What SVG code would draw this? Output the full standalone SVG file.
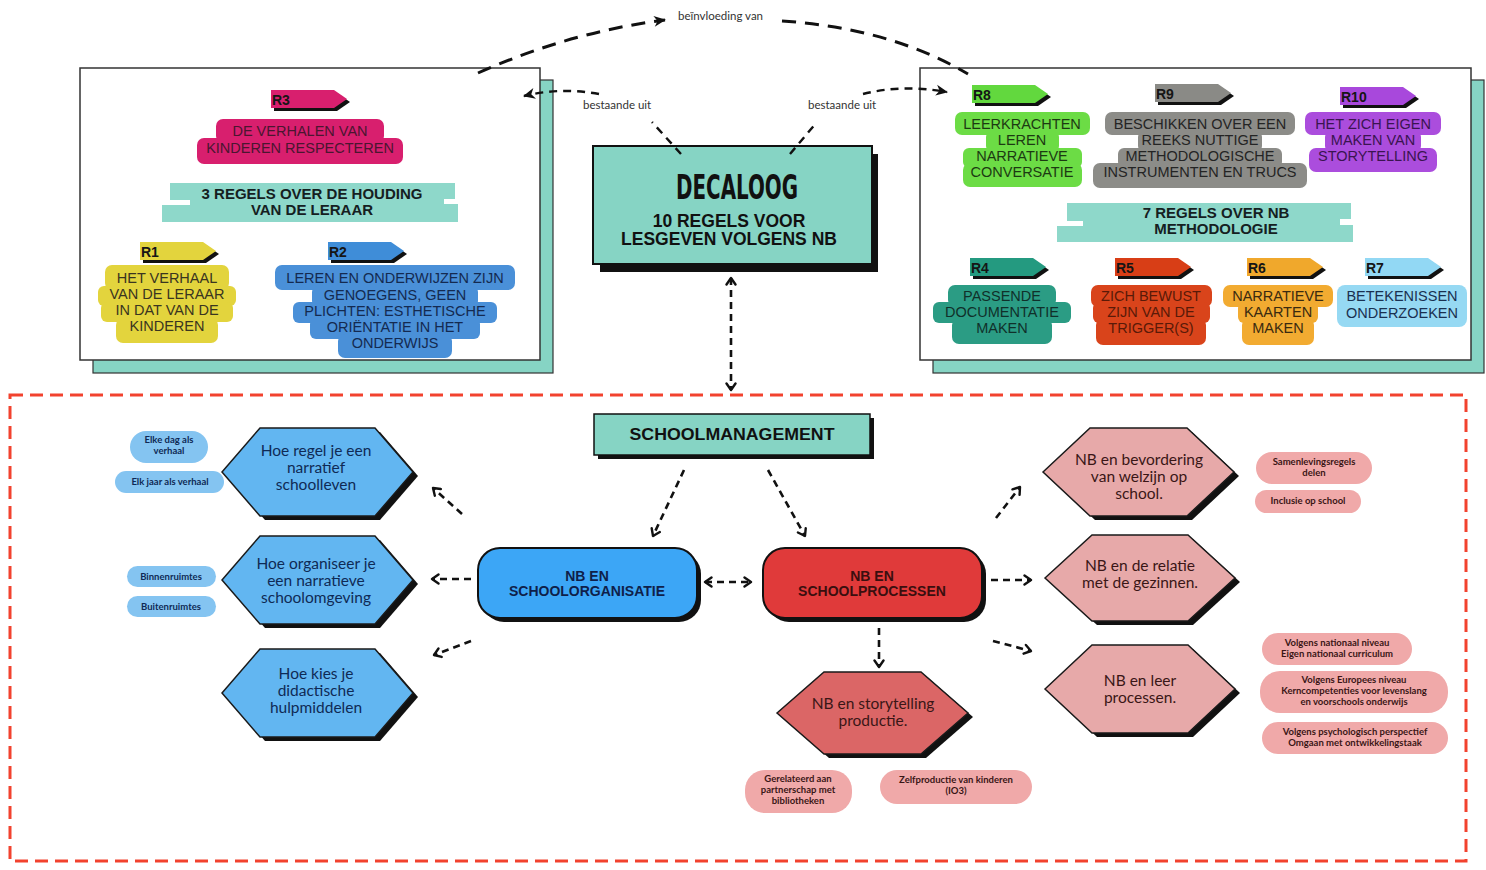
<svg xmlns="http://www.w3.org/2000/svg" width="1486" height="870" viewBox="0 0 1486 870">
<defs>
<style>
.box{font-family:"Liberation Sans",Arial,sans-serif;font-size:14.5px;text-anchor:middle}
.ban{font-family:"Liberation Sans",Arial,sans-serif;font-size:15px;font-weight:700;text-anchor:middle;fill:#15201f}
.tag{font-family:"Liberation Sans",Arial,sans-serif;font-size:14px;font-weight:700;fill:#151515}
.hex{font-family:Lato,"Noto Sans",sans-serif;font-size:15.5px;text-anchor:middle}
.pill{font-family:Lato,"Noto Sans",sans-serif;font-size:9.5px;font-weight:700;text-anchor:middle}
.lbl{font-family:Lato,"Noto Sans",sans-serif;font-size:11.5px;fill:#333}
.node{font-family:"Liberation Sans",Arial,sans-serif;font-size:14px;font-weight:700;text-anchor:middle}
.dash{fill:none;stroke:#111;stroke-width:2.6;stroke-dasharray:7 5}
.dashTop{fill:none;stroke:#111;stroke-width:3;stroke-dasharray:14 9}
.dashMid{fill:none;stroke:#111;stroke-width:2.4;stroke-dasharray:8 6}
.shadow{fill:#111}
.hexB{fill:#62b6f1;stroke:#1a1a1a;stroke-width:1.5}
.hexP{fill:#e7a9a9;stroke:#1a1a1a;stroke-width:1.5}
.pillB{fill:#84c4f1}
.pillP{fill:#f0a9a9}
.bt{fill:#0f2a55}
.pt{fill:#3a1616}
</style>
<polygon id="tagShape" points="0,0 63,0 76,9 63,18 0,18"/>
<marker id="chev" viewBox="0 0 12 12" refX="9.5" refY="6" markerWidth="12" markerHeight="12" markerUnits="userSpaceOnUse" orient="auto-start-reverse">
<path d="M3,1.5 L9.5,6 L3,10.5" fill="none" stroke="#111" stroke-width="2.4" stroke-linecap="round" stroke-linejoin="round"/>
</marker>
<marker id="head" viewBox="0 0 14 14" refX="12" refY="7" markerWidth="14" markerHeight="14" markerUnits="userSpaceOnUse" orient="auto">
<path d="M1,1.5 L13,7 L1,12.5 L4.5,7 Z" fill="#111"/>
</marker>
</defs>
<rect width="1486" height="870" fill="#fff"/>

<!-- red dashed frame -->
<rect x="10" y="395" width="1456" height="466" fill="none" stroke="#f2422e" stroke-width="3" stroke-dasharray="13 7"/>

<!-- Left panel -->
<g id="panel-left">
<rect x="93" y="80" width="460" height="293" fill="#86d4c4" stroke="#333" stroke-width="1.2"/>
<rect x="80" y="68" width="460" height="292" fill="#fff" stroke="#333" stroke-width="1.5"/>
</g>

<!-- Right panel -->
<g id="panel-right">
<rect x="933" y="80" width="551" height="293" fill="#86d4c4" stroke="#333" stroke-width="1.2"/>
<rect x="920" y="68" width="551" height="292" fill="#fff" stroke="#333" stroke-width="1.5"/>
</g>

<!-- R3 -->
<g id="r3">
<g transform="translate(271,90)"><use href="#tagShape" x="3" y="3" class="shadow"/><use href="#tagShape" fill="#d81f6e"/><text class="tag" x="1" y="15">R3</text></g>
<g fill="#d81f6e"><rect x="216" y="119" width="168" height="24" rx="7"/><rect x="197" y="138" width="206" height="26" rx="7"/></g>
<text class="box" fill="#4a1630"><tspan x="300" y="136">DE VERHALEN VAN</tspan><tspan x="300" y="153">KINDEREN RESPECTEREN</tspan></text>
</g>

<!-- banner left -->
<g id="banner-houding">
<path d="M170,183 L455,183 L455,199 L444,199 L444,204 L458,204 L458,222 L162,222 L162,205 L190,205 L190,200 L170,200 Z" fill="#8ed8ca"/>
<text class="ban"><tspan x="312" y="199">3 REGELS OVER DE HOUDING</tspan><tspan x="312" y="215">VAN DE LERAAR</tspan></text>
</g>

<!-- R1 -->
<g id="r1">
<g transform="translate(140,242)"><use href="#tagShape" x="3" y="3" class="shadow"/><use href="#tagShape" fill="#e3d43d"/><text class="tag" x="1" y="15">R1</text></g>
<g fill="#e3d43d"><rect x="105" y="265" width="124" height="25" rx="7"/><rect x="98" y="286" width="138" height="20" rx="6"/><rect x="101" y="302" width="132" height="20" rx="6"/><rect x="116" y="318" width="102" height="25" rx="7"/></g>
<text class="box" fill="#3a3520"><tspan x="167" y="283">HET VERHAAL</tspan><tspan x="167" y="299">VAN DE LERAAR</tspan><tspan x="167" y="315">IN DAT VAN DE</tspan><tspan x="167" y="331">KINDEREN</tspan></text>
</g>

<!-- R2 -->
<g id="r2">
<g transform="translate(328,242)"><use href="#tagShape" x="3" y="3" class="shadow"/><use href="#tagShape" fill="#3f8dd8"/><text class="tag" x="1" y="15">R2</text></g>
<g fill="#4a90d8"><rect x="275" y="265" width="240" height="25" rx="7"/><rect x="312" y="286" width="166" height="21" rx="6"/><rect x="293" y="302" width="204" height="21" rx="6"/><rect x="310" y="318" width="170" height="21" rx="6"/><rect x="338" y="334" width="114" height="24" rx="7"/></g>
<text class="box" fill="#142a50"><tspan x="395" y="283">LEREN EN ONDERWIJZEN ZIJN</tspan><tspan x="395" y="300">GENOEGENS, GEEN</tspan><tspan x="395" y="316">PLICHTEN: ESTHETISCHE</tspan><tspan x="395" y="332">ORIËNTATIE IN HET</tspan><tspan x="395" y="348">ONDERWIJS</tspan></text>
</g>

<!-- R8 -->
<g id="r8">
<g transform="translate(972,85)"><use href="#tagShape" x="3" y="3" class="shadow"/><use href="#tagShape" fill="#62d83e"/><text class="tag" x="1" y="15">R8</text></g>
<g fill="#6cdc45"><rect x="955" y="112" width="135" height="23" rx="7"/><rect x="986" y="132" width="73" height="19" rx="5"/><rect x="963" y="148" width="119" height="20" rx="6"/><rect x="963" y="163" width="119" height="24" rx="7"/></g>
<text class="box" fill="#1c3a12"><tspan x="1022" y="129">LEERKRACHTEN</tspan><tspan x="1022" y="145">LEREN</tspan><tspan x="1022" y="161">NARRATIEVE</tspan><tspan x="1022" y="177">CONVERSATIE</tspan></text>
</g>

<!-- R9 -->
<g id="r9">
<g transform="translate(1155,84)"><use href="#tagShape" x="3" y="3" class="shadow"/><use href="#tagShape" fill="#8a8a86"/><text class="tag" x="1" y="15">R9</text></g>
<g fill="#8c8c88"><rect x="1105" y="112" width="190" height="23" rx="7"/><rect x="1138" y="132" width="124" height="19" rx="5"/><rect x="1118" y="148" width="164" height="20" rx="6"/><rect x="1093" y="163" width="214" height="25" rx="7"/></g>
<text class="box" fill="#242424"><tspan x="1200" y="129">BESCHIKKEN OVER EEN</tspan><tspan x="1200" y="145">REEKS NUTTIGE</tspan><tspan x="1200" y="161">METHODOLOGISCHE</tspan><tspan x="1200" y="177">INSTRUMENTEN EN TRUCS</tspan></text>
</g>

<!-- R10 -->
<g id="r10">
<g transform="translate(1340,87)"><use href="#tagShape" x="3" y="3" class="shadow"/><use href="#tagShape" fill="#a848dc"/><text class="tag" x="1" y="15">R10</text></g>
<g fill="#ab4ddd"><rect x="1305" y="112" width="136" height="23" rx="7"/><rect x="1325" y="132" width="96" height="19" rx="5"/><rect x="1309" y="148" width="128" height="24" rx="7"/></g>
<text class="box" fill="#3a1450"><tspan x="1373" y="129">HET ZICH EIGEN</tspan><tspan x="1373" y="145">MAKEN VAN</tspan><tspan x="1373" y="161">STORYTELLING</tspan></text>
</g>

<!-- banner right -->
<g id="banner-methodologie">
<path d="M1067,203 L1351,203 L1351,219 L1340,219 L1340,225 L1353,225 L1353,242 L1057,242 L1057,226 L1083,226 L1083,221 L1067,221 Z" fill="#8ed8ca"/>
<text class="ban"><tspan x="1216" y="218">7 REGELS OVER NB</tspan><tspan x="1216" y="234">METHODOLOGIE</tspan></text>
</g>

<!-- R4 -->
<g id="r4">
<g transform="translate(970,258)"><use href="#tagShape" x="3" y="3" class="shadow"/><use href="#tagShape" fill="#249a80"/><text class="tag" x="1" y="15">R4</text></g>
<g fill="#2b9c84"><rect x="948" y="285" width="108" height="22" rx="7"/><rect x="933" y="302" width="138" height="21" rx="6"/><rect x="952" y="318" width="100" height="26" rx="7"/></g>
<text class="box" fill="#10302a"><tspan x="1002" y="301">PASSENDE</tspan><tspan x="1002" y="317">DOCUMENTATIE</tspan><tspan x="1002" y="333">MAKEN</tspan></text>
</g>

<!-- R5 -->
<g id="r5">
<g transform="translate(1115,258)"><use href="#tagShape" x="3" y="3" class="shadow"/><use href="#tagShape" fill="#d83e16"/><text class="tag" x="1" y="15">R5</text></g>
<g fill="#d9441b"><rect x="1091" y="285" width="121" height="22" rx="7"/><rect x="1093" y="302" width="117" height="21" rx="6"/><rect x="1096" y="318" width="110" height="27" rx="7"/></g>
<text class="box" fill="#5a1a08"><tspan x="1151" y="301">ZICH BEWUST</tspan><tspan x="1151" y="317">ZIJN VAN DE</tspan><tspan x="1151" y="333">TRIGGER(S)</tspan></text>
</g>

<!-- R6 -->
<g id="r6">
<g transform="translate(1247,258)"><use href="#tagShape" x="3" y="3" class="shadow"/><use href="#tagShape" fill="#f0a82c"/><text class="tag" x="1" y="15">R6</text></g>
<g fill="#f2ab31"><rect x="1223" y="285" width="110" height="22" rx="7"/><rect x="1238" y="302" width="80" height="21" rx="6"/><rect x="1242" y="318" width="72" height="27" rx="7"/></g>
<text class="box" fill="#3a2a10"><tspan x="1278" y="301">NARRATIEVE</tspan><tspan x="1278" y="317">KAARTEN</tspan><tspan x="1278" y="333">MAKEN</tspan></text>
</g>

<!-- R7 -->
<g id="r7">
<g transform="translate(1365,258)"><use href="#tagShape" x="3" y="3" class="shadow"/><use href="#tagShape" fill="#92d8f4"/><text class="tag" x="1" y="15">R7</text></g>
<rect x="1337" y="285" width="130" height="42" rx="8" fill="#96d9f3"/>
<text class="box" fill="#1a3050"><tspan x="1402" y="301">BETEKENISSEN</tspan><tspan x="1402" y="318">ONDERZOEKEN</tspan></text>
</g>

<!-- DECALOOG -->
<g id="decaloog">
<rect x="600" y="154" width="278" height="118" class="shadow"/>
<rect x="593" y="146" width="279" height="118" fill="#86d4c4" stroke="#111" stroke-width="2"/>
<text x="737" y="199" font-family="'Liberation Sans Narrow','DejaVu Sans Condensed','Liberation Sans',sans-serif" font-size="33" font-weight="700" text-anchor="middle" fill="#111" textLength="122" lengthAdjust="spacingAndGlyphs">DECALOOG</text>
<text font-family="'Liberation Sans',Arial,sans-serif" font-size="17.5" font-weight="700" text-anchor="middle" fill="#111"><tspan x="729" y="227">10 REGELS VOOR</tspan><tspan x="729" y="245">LESGEVEN VOLGENS NB</tspan></text>
</g>

<!-- SCHOOLMANAGEMENT -->
<g id="schoolmanagement">
<rect x="598" y="418" width="276" height="41" class="shadow"/>
<rect x="594" y="414" width="276" height="41" fill="#86d4c4" stroke="#111" stroke-width="1.5"/>
<text x="732" y="440" font-family="'Liberation Sans',Arial,sans-serif" font-size="16" font-weight="700" text-anchor="middle" fill="#111" textLength="205" lengthAdjust="spacingAndGlyphs">SCHOOLMANAGEMENT</text>
</g>

<!-- NB EN SCHOOLORGANISATIE -->
<g id="nb-schoolorganisatie">
<rect x="482" y="552" width="219" height="70" rx="22" class="shadow"/>
<rect x="478" y="548" width="219" height="70" rx="22" fill="#3ca6f6" stroke="#111" stroke-width="2"/>
<text class="node" fill="#0f1f4a"><tspan x="587" y="581">NB EN</tspan><tspan x="587" y="596">SCHOOLORGANISATIE</tspan></text>
</g>

<!-- NB EN SCHOOLPROCESSEN -->
<g id="nb-schoolprocessen">
<rect x="767" y="552" width="219" height="70" rx="22" class="shadow"/>
<rect x="763" y="548" width="219" height="70" rx="22" fill="#e03a3a" stroke="#111" stroke-width="2"/>
<text class="node" fill="#3a0f0f"><tspan x="872" y="581">NB EN</tspan><tspan x="872" y="596">SCHOOLPROCESSEN</tspan></text>
</g>

<!-- Blue hexagons -->
<g id="hex-schoolleven">
<polygon points="227,476 265,432 380,432 418,476 380,520 265,520" class="shadow"/>
<polygon points="222,472 260,428 375,428 413,472 375,516 260,516" class="hexB"/>
<text class="hex bt"><tspan x="316" y="456">Hoe regel je een</tspan><tspan x="316" y="473">narratief</tspan><tspan x="316" y="490">schoolleven</tspan></text>
</g>
<g id="hex-schoolomgeving">
<polygon points="227,584 265,540 380,540 418,584 380,628 265,628" class="shadow"/>
<polygon points="222,580 260,536 375,536 413,580 375,624 260,624" class="hexB"/>
<text class="hex bt"><tspan x="316" y="569">Hoe organiseer je</tspan><tspan x="316" y="586">een narratieve</tspan><tspan x="316" y="603">schoolomgeving</tspan></text>
</g>
<g id="hex-hulpmiddelen">
<polygon points="227,697 265,653 380,653 418,697 380,741 265,741" class="shadow"/>
<polygon points="222,693 260,649 375,649 413,693 375,737 260,737" class="hexB"/>
<text class="hex bt"><tspan x="316" y="679">Hoe kies je</tspan><tspan x="316" y="696">didactische</tspan><tspan x="316" y="713">hulpmiddelen</tspan></text>
</g>

<!-- Blue pills -->
<g id="pill-elke-dag"><rect x="130" y="431" width="78" height="32" rx="16" class="pillB"/><text class="pill bt"><tspan x="169" y="443">Elke dag als</tspan><tspan x="169" y="454">verhaal</tspan></text></g>
<g id="pill-elk-jaar"><rect x="115" y="471" width="109" height="22" rx="11" class="pillB"/><text class="pill bt" x="170" y="485">Elk jaar als verhaal</text></g>
<g id="pill-binnen"><rect x="127" y="566" width="89" height="21" rx="10.5" class="pillB"/><text class="pill bt" x="171" y="580">Binnenruimtes</text></g>
<g id="pill-buiten"><rect x="127" y="596" width="89" height="21" rx="10.5" class="pillB"/><text class="pill bt" x="171" y="610">Buitenruimtes</text></g>

<!-- Pink hexagons -->
<g id="hex-welzijn">
<polygon points="1048,476 1095,432 1192,432 1239,476 1192,520 1095,520" class="shadow"/>
<polygon points="1043,472 1090,428 1187,428 1234,472 1187,516 1090,516" class="hexP"/>
<text class="hex pt"><tspan x="1139" y="465">NB en bevordering</tspan><tspan x="1139" y="482">van welzijn op</tspan><tspan x="1139" y="499">school.</tspan></text>
</g>
<g id="hex-gezinnen">
<polygon points="1050,582 1097,539 1193,539 1240,582 1193,625 1097,625" class="shadow"/>
<polygon points="1045,578 1092,535 1188,535 1235,578 1188,621 1092,621" class="hexP"/>
<text class="hex pt"><tspan x="1140" y="571">NB en de relatie</tspan><tspan x="1140" y="588">met de gezinnen.</tspan></text>
</g>
<g id="hex-leerprocessen">
<polygon points="1050,693 1097,649 1193,649 1240,693 1193,737 1097,737" class="shadow"/>
<polygon points="1045,689 1092,645 1188,645 1235,689 1188,733 1092,733" class="hexP"/>
<text class="hex pt"><tspan x="1140" y="686">NB en leer</tspan><tspan x="1140" y="703">processen.</tspan></text>
</g>
<g id="hex-storytelling">
<polygon points="782,717 829,676 926,676 973,717 926,758 829,758" class="shadow"/>
<polygon points="777,713 824,672 921,672 968,713 921,754 824,754" fill="#db6666" stroke="#1a1a1a" stroke-width="1.5"/>
<text class="hex pt"><tspan x="873" y="709">NB en storytelling</tspan><tspan x="873" y="726">productie.</tspan></text>
</g>

<!-- Pink pills -->
<g id="pill-samenleving"><rect x="1256" y="452" width="116" height="32" rx="16" class="pillP"/><text class="pill pt"><tspan x="1314" y="465">Samenlevingsregels</tspan><tspan x="1314" y="476">delen</tspan></text></g>
<g id="pill-inclusie"><rect x="1255" y="490" width="106" height="23" rx="11.5" class="pillP"/><text class="pill pt" x="1308" y="504">Inclusie op school</text></g>
<g id="pill-nationaal"><rect x="1262" y="633" width="150" height="32" rx="16" class="pillP"/><text class="pill pt"><tspan x="1337" y="646">Volgens nationaal niveau</tspan><tspan x="1337" y="657">Eigen nationaal curriculum</tspan></text></g>
<g id="pill-europees"><rect x="1260" y="671" width="188" height="42" rx="20" class="pillP"/><text class="pill pt"><tspan x="1354" y="683">Volgens Europees niveau</tspan><tspan x="1354" y="694">Kerncompetenties voor levenslang</tspan><tspan x="1354" y="705">en voorschools onderwijs</tspan></text></g>
<g id="pill-psychologisch"><rect x="1262" y="722" width="186" height="32" rx="16" class="pillP"/><text class="pill pt"><tspan x="1355" y="735">Volgens psychologisch perspectief</tspan><tspan x="1355" y="746">Omgaan met ontwikkelingstaak</tspan></text></g>
<g id="pill-bibliotheken"><rect x="745" y="770" width="107" height="43" rx="20" class="pillP"/><text class="pill pt"><tspan x="798" y="782">Gerelateerd aan</tspan><tspan x="798" y="793">partnerschap met</tspan><tspan x="798" y="804">bibliotheken</tspan></text></g>
<g id="pill-zelfproductie"><rect x="880" y="770" width="152" height="34" rx="17" class="pillP"/><text class="pill pt"><tspan x="956" y="783">Zelfproductie van kinderen</tspan><tspan x="956" y="794">(IO3)</tspan></text></g>

<!-- Connectors -->
<g id="connectors">
<path class="dashTop" d="M478,73 Q570,32 665,20" marker-end="url(#head)"/>
<path class="dashTop" d="M782,21 Q890,28 968,74"/>
<path class="dashMid" d="M681,154 L652,122"/>
<path class="dashMid" d="M599,94 Q560,87 524,96" marker-end="url(#head)"/>
<path class="dashMid" d="M790,154 L817,122"/>
<path class="dashMid" d="M863,94 Q902,84 947,92" marker-end="url(#head)"/>
<path class="dash" d="M731,278 L731,390" marker-start="url(#chev)" marker-end="url(#chev)"/>
<path class="dash" d="M684,470 L653,536" marker-end="url(#chev)"/>
<path class="dash" d="M768,470 L805,536" marker-end="url(#chev)"/>
<path class="dash" d="M705,582 L751,582" marker-start="url(#chev)" marker-end="url(#chev)"/>
<path class="dash" d="M462,514 L433,488" marker-end="url(#chev)"/>
<path class="dash" d="M471,579 L432,579" marker-end="url(#chev)"/>
<path class="dash" d="M471,641 L434,655" marker-end="url(#chev)"/>
<path class="dash" d="M996,518 L1020,487" marker-end="url(#chev)"/>
<path class="dash" d="M991,580 L1031,580" marker-end="url(#chev)"/>
<path class="dash" d="M993,641 L1031,651" marker-end="url(#chev)"/>
<path class="dash" d="M879,628 L879,667" marker-end="url(#chev)"/>
</g>

<!-- connector labels -->
<text class="lbl" x="678" y="20">beïnvloeding van</text>
<text class="lbl" x="583" y="109">bestaande uit</text>
<text class="lbl" x="808" y="109">bestaande uit</text>
</svg>
